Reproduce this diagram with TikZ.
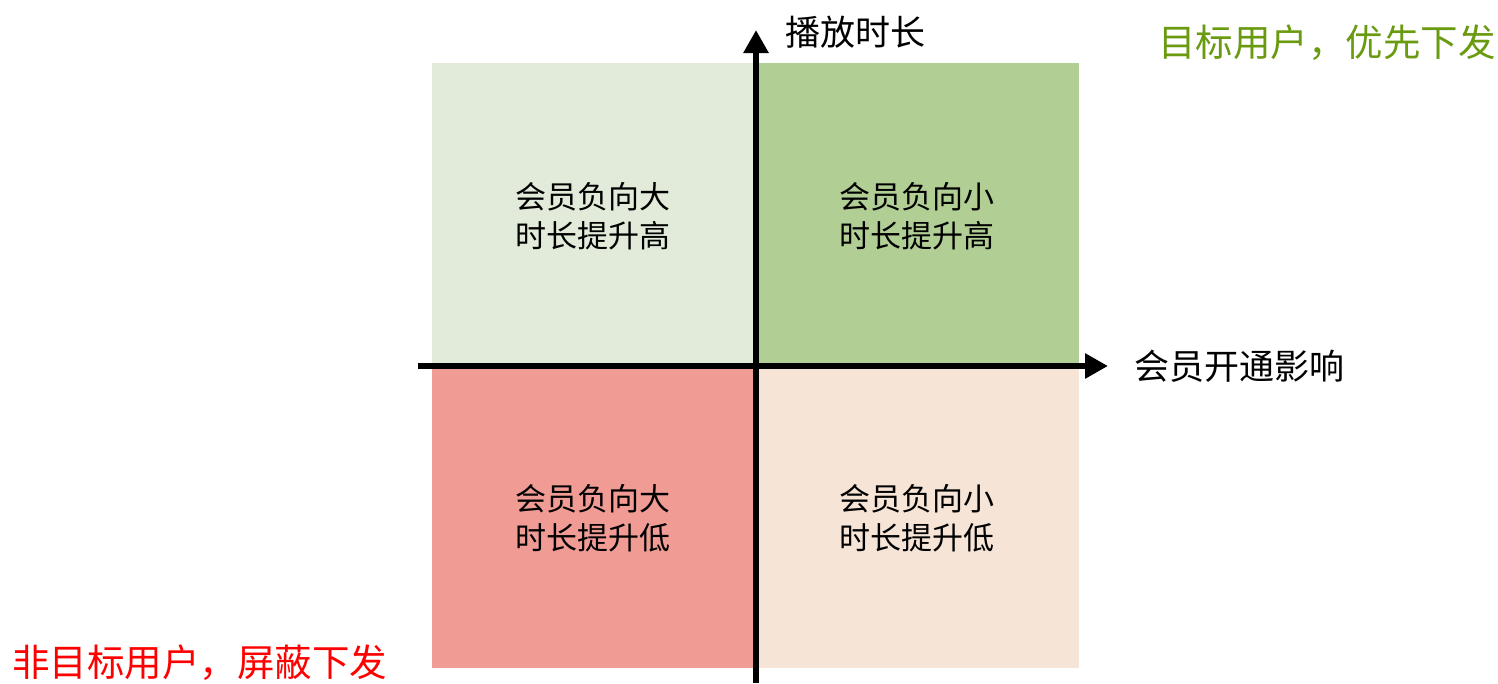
\documentclass[tikz,border=0pt]{standalone}
\usepackage{fontspec}
\setmainfont{Noto Sans CJK SC}
\usetikzlibrary{arrows.meta}
\definecolor{qtl}{HTML}{E2EBD9}
\definecolor{qtr}{HTML}{B1CF95}
\definecolor{qbl}{HTML}{F09C94}
\definecolor{qbr}{HTML}{F6E4D7}
\definecolor{tgreen}{HTML}{6A9A10}
\definecolor{tred}{HTML}{FF0000}
\begin{document}
\begin{tikzpicture}[x=1pt,y=-1pt,
  quad/.style={draw=none,inner sep=0pt,align=center,font=\fontsize{31}{39}\selectfont},
  axis/.style={line width=6pt,-{Triangle[width=24pt,length=23pt]}},
  axlabel/.style={inner sep=0pt,font=\fontsize{35}{40}\selectfont},
  corner/.style={inner sep=0pt,font=\fontsize{37.5}{44}\selectfont}]
\useasboundingbox (0,0) rectangle (1498,683);
\fill[qtl] (432,63) rectangle (756,366);
\fill[qtr] (756,63) rectangle (1079,366);
\fill[qbl] (432,366) rectangle (756,668);
\fill[qbr] (756,366) rectangle (1079,668);
\node[quad] (tl) at (593,216) {会员负向大\\时长提升高};
\node[quad] (tr) at (917,216) {会员负向小\\时长提升高};
\node[quad] (bl) at (593,518) {会员负向大\\时长提升低};
\node[quad] (br) at (917,518) {会员负向小\\时长提升低};
\coordinate (vb) at (756,683);
\coordinate (vt) at (756,30);
\coordinate (hl) at (418,366);
\coordinate (hr) at (1108,366);
\draw[axis] (vb) -- (vt);
\draw[axis] (hl) -- (hr);
\node[axlabel,anchor=west] (ylab) at (785,32) {播放时长};
\node[axlabel,anchor=west] (xlab) at (1134,366) {会员开通影响};
\node[corner,anchor=west,text=tgreen] (good) at (1158,43) {目标用户，优先下发};
\node[corner,anchor=west,text=tred] (bad) at (12,663) {非目标用户，屏蔽下发};
\end{tikzpicture}
\end{document}
